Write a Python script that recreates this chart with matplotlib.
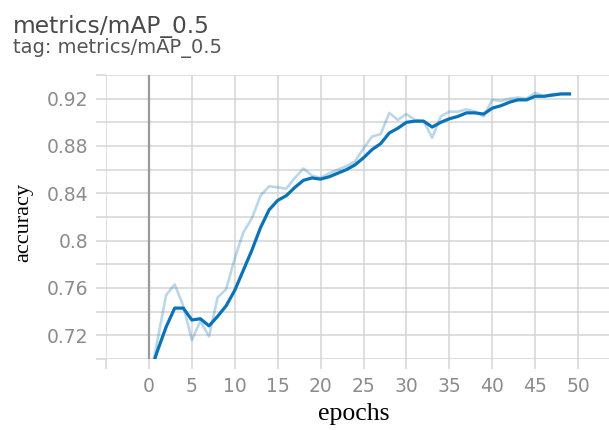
import matplotlib
matplotlib.use("Agg")
import matplotlib.pyplot as plt

# mAP@0.5 per epoch: raw values and the smoothed curve
epochs = list(range(50))
map_raw = [0.678, 0.716, 0.754, 0.763, 0.745, 0.716, 0.732, 0.719, 0.752, 0.759,
           0.785, 0.807, 0.819, 0.838, 0.846, 0.845, 0.844, 0.853, 0.861, 0.855,
           0.853, 0.857, 0.860, 0.863, 0.867, 0.878, 0.888, 0.890, 0.908, 0.902,
           0.907, 0.902, 0.901, 0.887, 0.905, 0.909, 0.909, 0.911, 0.909, 0.905,
           0.919, 0.918, 0.920, 0.921, 0.920, 0.925, 0.922, 0.924, 0.924, 0.924]
map_smooth = [0.685, 0.707, 0.727, 0.743, 0.743, 0.733, 0.734, 0.728, 0.736, 0.745,
              0.758, 0.775, 0.792, 0.811, 0.826, 0.834, 0.838, 0.845, 0.851, 0.853,
              0.852, 0.854, 0.857, 0.860, 0.864, 0.870, 0.877, 0.882, 0.891, 0.895,
              0.900, 0.901, 0.901, 0.896, 0.900, 0.903, 0.905, 0.908, 0.908, 0.907,
              0.912, 0.914, 0.917, 0.919, 0.919, 0.922, 0.922, 0.923, 0.924, 0.924]

xticks = list(range(-5, 55, 5))
xtick_labels = [""] + [str(v) for v in range(0, 55, 5)]
yticks = [0.70, 0.72, 0.74, 0.76, 0.78, 0.80, 0.82, 0.84, 0.86, 0.88, 0.90, 0.92, 0.94]
ytick_labels = ["", "0.72", "", "0.76", "", "0.8", "", "0.84", "", "0.88", "", "0.92", ""]

fig = plt.figure(figsize=(6.09, 4.30), dpi=100)
ax = fig.add_axes([106 / 609, 1 - 359 / 430, 503 / 609, 284 / 430])

line_color = "#0a72b6"
ax.plot(epochs, map_raw, color=line_color, alpha=0.28, lw=1.9, zorder=3)
ax.plot(epochs, map_smooth, color=line_color, lw=2.3, zorder=4)
ax.axvline(0, color="#9a9a9a", lw=1.6, zorder=2)

ax.set_xlim(-5, 53.6)
ax.set_ylim(0.70, 0.94)
ax.set_xticks(xticks)
ax.set_xticklabels(xtick_labels)
ax.set_yticks(yticks)
ax.set_yticklabels(ytick_labels)
ax.grid(True, color="#d4d4d4", lw=1.1, zorder=1)
for s in ax.spines.values():
    s.set_visible(False)
ax.tick_params(axis="both", length=7, width=1.1, color="#d4d4d4",
               labelcolor="#8c8c8c", labelsize=13.5, pad=6)

fig.text(13 / 609, 1 - 33 / 430, "metrics/mAP_0.5", family="DejaVu Sans",
         fontsize=16.8, color="#4a4a4a", ha="left", va="baseline")
fig.text(13 / 609, 1 - 53 / 430, "tag: metrics/mAP_0.5", family="DejaVu Sans",
         fontsize=14, color="#555555", ha="left", va="baseline")

fig.text(24 / 609, 1 - 222 / 430, "accuracy", family="Liberation Serif",
         fontsize=16, rotation=90, ha="center", va="center", color="black")
fig.text(354 / 609, 1 - 414 / 430, "epochs", family="Liberation Serif",
         fontsize=18.5, ha="center", va="center", color="black")

fig.savefig("out.png", dpi=100)
